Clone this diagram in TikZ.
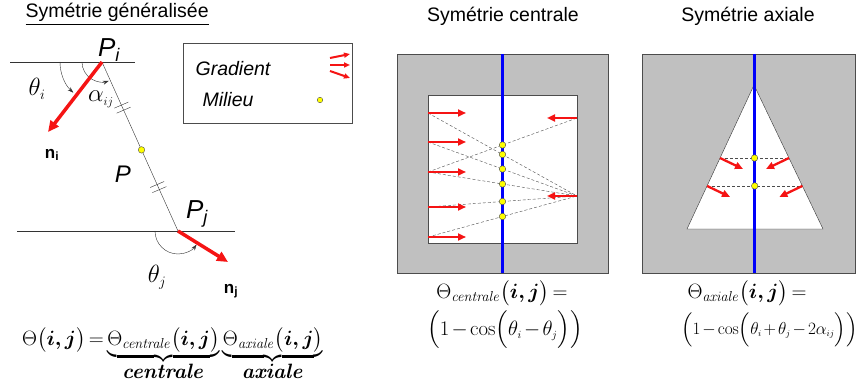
\documentclass[tikz,border=0pt]{standalone}
\usepackage{amsmath,amssymb,bm}
\usepackage[no-math]{fontspec}
\setmainfont{Liberation Sans}
\usetikzlibrary{arrows.meta,calc,positioning}
\definecolor{rouge}{RGB}{245,20,20}
\definecolor{gris}{RGB}{192,192,192}
\definecolor{bleu}{RGB}{0,0,250}
\definecolor{jaune}{RGB}{255,255,0}
\newcommand{\serre}{\medmuskip=2mu\relax\thickmuskip=3mu\relax}

\begin{document}
\begin{tikzpicture}[x=1pt,y=-1pt,>=Stealth,
  grand/.style={font=\fontsize{19.5}{23}\selectfont},
  formule/.style={font=\fontsize{21}{25}\selectfont,inner sep=0pt},
  normale/.style={rouge,line width=3.5pt,-{Triangle[length=11pt,width=10pt]}},
  grad/.style={rouge,line width=2.6pt,-{Triangle[length=8pt,width=7pt]}},
  petitgrad/.style={rouge,line width=2pt,-{Triangle[length=6pt,width=5pt]}},
  milieu/.style={circle,draw=black!70,fill=jaune,inner sep=0pt,minimum size=6.5pt},
  pointille/.style={black!70,thin,dash pattern=on 3pt off 2pt},
  axe/.style={bleu,line width=3pt},
  angle/.style={black!80,thin,-{Stealth[length=6pt,width=4pt]}}]
  \useasboundingbox (0,0) rectangle (856,387);
  % ----- symetrie generalisee -----
  \node[grand,anchor=base west] (titreG) at (22,18) {\underline{Symétrie généralisée}};
  \coordinate (Pi) at (102,62);
  \coordinate (Pj) at (178,231);
  \coordinate (hautG) at (10,62);
  \coordinate (hautD) at (135,62);
  \coordinate (basG) at (17,231);
  \coordinate (basD) at (235,231);
  \coordinate (ni) at (48,132);
  \coordinate (nj) at (228,262);
  \draw[black!80,thin] (hautG) -- (hautD);
  \draw[black!80,thin] (basG) -- (basD);
  \draw[black!80,thin] (Pi) -- (Pj);
  % marques d'egalite
  \foreach \t in {0.255,0.285,0.725,0.755}{
    \draw[black!80,thin] ($(Pi)!\t!(Pj)$) ++(-7pt,-3pt) -- ++(14pt,6pt);
  }
  \node[milieu] (P) at ($(Pi)!0.52!(Pj)$) {};
  % angles
  \draw[angle] ($(Pi)+(180:42pt)$) arc[start angle=180,end angle=227,radius=42pt];
  \draw[angle] ($(Pi)+(180:20pt)$) arc[start angle=180,end angle=290,radius=20pt];
  \draw[angle] ($(Pj)+(180:23pt)$) arc[start angle=180,end angle=324,radius=23pt];
  \draw[normale] (Pi) -- (ni);
  \draw[normale] (Pj) -- (nj);
  % etiquettes
  \node[font=\fontsize{26}{30}\selectfont\itshape] (lPi) at (109,50) {P\textsubscript{i}};
  \node[font=\fontsize{26}{30}\selectfont\itshape] (lPj) at (197,214) {P\textsubscript{j}};
  \node[font=\fontsize{24}{28}\selectfont\itshape] (lP) at (123,174) {P};
  \node[font=\fontsize{27}{30}\selectfont] (lthi) at (37,89) {$\theta_{\scriptscriptstyle i}$};
  \node[font=\fontsize{27}{30}\selectfont] (lthj) at (157,277) {$\theta_{\scriptscriptstyle j}$};
  \node[font=\fontsize{26}{30}\selectfont] (lalpha) at (101,99) {$\alpha_{\scriptscriptstyle ij}$};
  \node[font=\fontsize{17}{20}\selectfont\bfseries] (lni) at (52,155) {n\textsubscript{i}};
  \node[font=\fontsize{17}{20}\selectfont\bfseries] (lnj) at (231,291) {n\textsubscript{j}};
  % legende
  \node[draw=black!70,minimum width=169pt,minimum height=80pt] (legende) at (267.5,83) {};
  \node[grand,font=\fontsize{19.5}{23}\selectfont\itshape] (lgrad) at (233,69) {Gradient};
  \node[grand,font=\fontsize{19.5}{23}\selectfont\itshape] (lmil) at (228,100) {Milieu};
  \coordinate (g1) at (330,58); \coordinate (g1e) at (350,54);
  \coordinate (g2) at (330,65); \coordinate (g2e) at (350,65);
  \coordinate (g3) at (330,71); \coordinate (g3e) at (350,78);
  \foreach \k in {1,2,3}{\draw[petitgrad] (g\k) -- (g\k e);}
  \node[milieu,minimum size=5.5pt] (mleg) at (320,100) {};
  % formule generale
  \node[formule,font=\fontsize{20.5}{25}\selectfont,anchor=base west] (thetaG) at (22,345)
    {$\serre\Theta\bigl(\bm{i,j}\bigr)=\underbrace{\Theta_{\mathit{centrale}}\bigl(\bm{i,j}\bigr)}_{\textstyle\bm{\mathit{centrale}}}\underbrace{\Theta_{\mathit{axiale}}\bigl(\bm{i,j}\bigr)}_{\textstyle\bm{\mathit{axiale}}}$};

  % ----- symetrie centrale -----
  \node[grand] (titreC) at (503,16) {Symétrie centrale};
  \fill[gris,draw=black!70] (397,54) rectangle (608,273);
  \fill[white,draw=black!70] (428,95) rectangle (577,243);
  \coordinate (R1) at (577,118); \coordinate (R1e) at (547,118);
  \coordinate (R2) at (577,196); \coordinate (R2e) at (547,196);
  \foreach \k/\y in {1/113,2/142,3/172,4/207,5/237}{
    \coordinate (L\k) at (428,\y);
    \coordinate (L\k e) at (466,\y);
    \draw[pointille] (L\k) -- (R2);
  }
  \draw[pointille] (L3) -- (R1);
  \draw[axe] (502,54) -- (502,273);
  \foreach \k in {1,...,5}{\draw[grad] (L\k) -- (L\k e);}
  \draw[grad] (R1) -- (R1e);
  \draw[grad] (R2) -- (R2e);
  \foreach \k in {1,...,5}{\node[milieu] (mC\k) at ($(L\k)!0.5!(R2)$) {};}
  \node[milieu] (mC6) at ($(L3)!0.5!(R1)$) {};
  \node[formule] (thetaC) at (502,293) {$\serre\Theta_{\mathit{centrale}}\bigl(\bm{i,j}\bigr)=$};
  \node[formule] (formC) at (505,330) {$\serre\Bigl(1-\cos\Bigl(\theta_{\scriptscriptstyle i}-\theta_{\scriptscriptstyle j}\Bigr)\Bigr)$};

  % ----- symetrie axiale -----
  \node[grand] (titreA) at (748,16) {Symétrie axiale};
  \fill[gris,draw=black!70] (642,54) rectangle (855,273);
  \coordinate (sommet) at (754,85);
  \coordinate (baseG) at (687,229);
  \coordinate (baseD) at (823,229);
  \fill[white,draw=black!80] (sommet) -- (baseG) -- (baseD) -- cycle;
  \coordinate (A1) at ($(sommet)!0.507!(baseG)$);
  \coordinate (B1) at ($(sommet)!0.507!(baseD)$);
  \coordinate (A2) at ($(sommet)!0.701!(baseG)$);
  \coordinate (B2) at ($(sommet)!0.701!(baseD)$);
  \draw[pointille] (A1) -- (B1);
  \draw[pointille] (A2) -- (B2);
  \draw[axe] (754,54) -- (754,273);
  \coordinate (A1e) at ($(A1)+(23,11)$);
  \coordinate (B1e) at ($(B1)+(-23,11)$);
  \coordinate (A2e) at ($(A2)+(23,11)$);
  \coordinate (B2e) at ($(B2)+(-23,11)$);
  \foreach \p in {A1,B1,A2,B2}{\draw[grad,line width=2.3pt] (\p) -- (\p e);}
  \node[milieu] (mA1) at ($(A1)!0.5!(B1)$) {};
  \node[milieu] (mA2) at ($(A2)!0.5!(B2)$) {};
  \node[formule] (thetaA) at (747,293) {$\serre\Theta_{\mathit{axiale}}\bigl(\bm{i,j}\bigr)=$};
  \node[formule,font=\fontsize{19}{23}\selectfont,anchor=west] (formA) at (681,330) {$\serre\Bigl(1-\cos\Bigl(\theta_{\scriptscriptstyle i}+\theta_{\scriptscriptstyle j}-2\alpha_{\scriptscriptstyle ij}\Bigr)\Bigr)$};
\end{tikzpicture}
\end{document}
